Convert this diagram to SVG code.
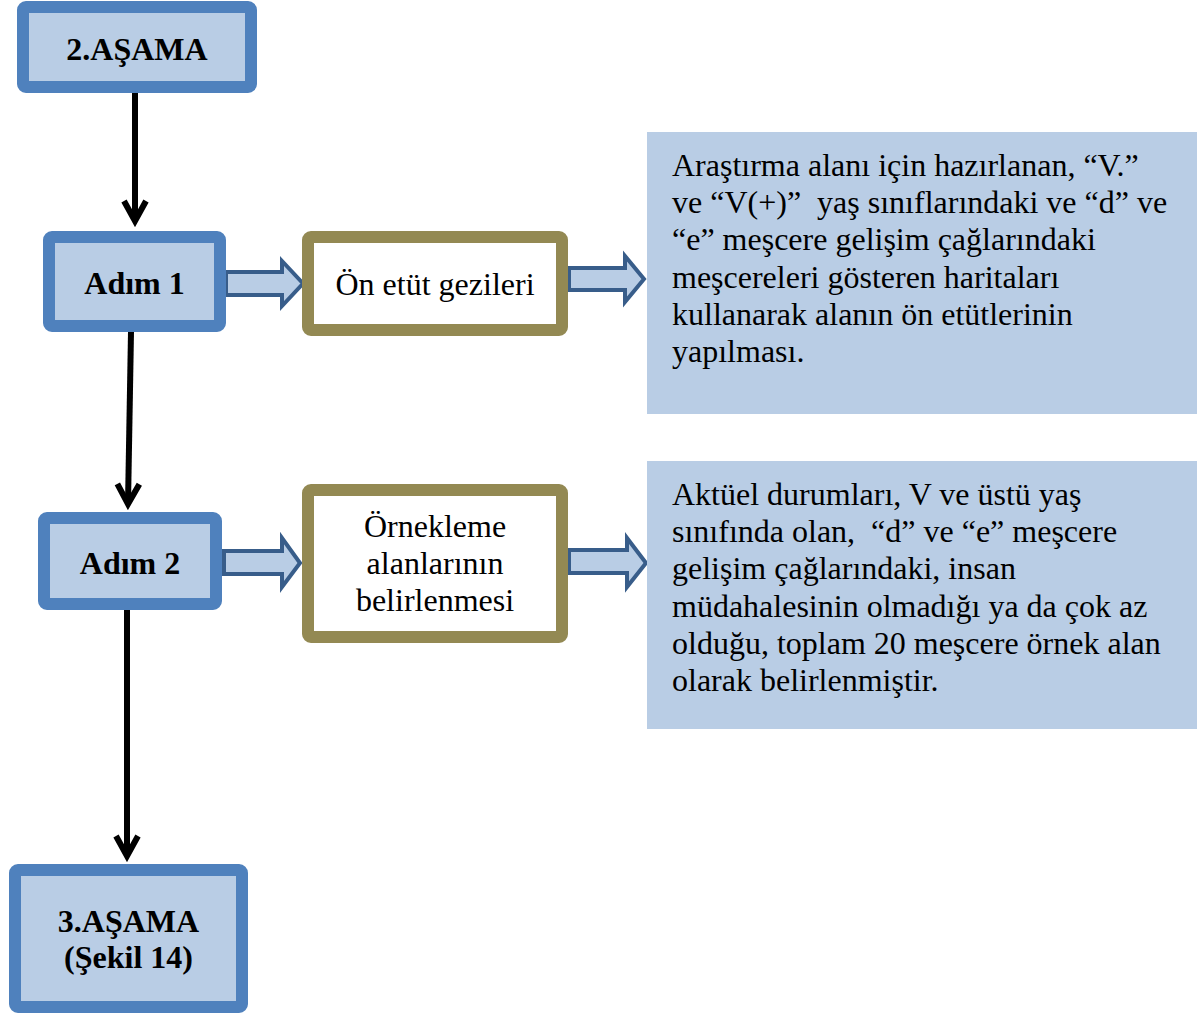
<svg xmlns="http://www.w3.org/2000/svg" width="1201" height="1014" viewBox="0 0 1201 1014">
<style>
.stage{fill:#B9CDE5;stroke:#4F81BD;stroke-width:12}
.olive{fill:#FFFFFF;stroke:#938953;stroke-width:12}
.panel{fill:#B9CDE5}
.block{fill:#B9CDE5;stroke:#385D8A;stroke-width:4;stroke-linejoin:miter}
.flow{stroke:#000;stroke-width:6;fill:none}
text{font-family:'Liberation Serif','Times New Roman',serif;fill:#000}
.tb{font-weight:bold;font-size:32px;text-anchor:middle}
.tm{font-size:32px;text-anchor:middle}
.tp{font-size:32px}
</style>
<defs>
<marker id="chev" markerUnits="userSpaceOnUse" viewBox="-26 -16 32 32" refX="0" refY="0" markerWidth="32" markerHeight="32" orient="auto">
<path d="M-20,-11 L0,0 L-20,11" fill="none" stroke="#000" stroke-width="6"/>
</marker>
</defs>
<g id="connectors">
<line class="flow" x1="135" y1="93" x2="135" y2="221" marker-end="url(#chev)"/>
<line class="flow" x1="131" y1="332" x2="128" y2="504" marker-end="url(#chev)"/>
<line class="flow" x1="127" y1="610" x2="127" y2="856" marker-end="url(#chev)"/>
<path class="block" d="M226,272 L282,272 L282,261 L303,283.5 L282,306 L282,295 L226,295 Z"/>
<path class="block" d="M569,268 L625,268 L625,256 L644,279 L625,302 L625,290 L569,290 Z"/>
<path class="block" d="M224,551 L282,551 L282,538 L300,563 L282,587 L282,574 L224,574 Z"/>
<path class="block" d="M569,550 L627,550 L627,538 L646,563 L627,587 L627,573 L569,573 Z"/>
</g>
<g id="stage2">
<rect class="stage" x="23" y="7" width="228" height="80" rx="3"/>
<text class="tb" x="137" y="60">2.AŞAMA</text>
</g>
<g id="adim1">
<rect class="stage" x="49" y="237" width="171" height="89" rx="3"/>
<text class="tb" x="134.5" y="294">Adım 1</text>
</g>
<g id="on-etut">
<rect class="olive" x="308" y="237" width="254" height="93" rx="3"/>
<text class="tm" x="435" y="295">Ön etüt gezileri</text>
</g>
<g id="panel1">
<rect class="panel" x="647" y="132" width="550" height="282"/>
<text class="tp" x="672" y="176">Araştırma alanı için hazırlanan, “V.”</text>
<text class="tp" x="672" y="213.2" xml:space="preserve">ve “V(+)”  yaş sınıflarındaki ve “d” ve</text>
<text class="tp" x="672" y="250.4">“e” meşcere gelişim çağlarındaki</text>
<text class="tp" x="672" y="287.6">meşcereleri gösteren haritaları</text>
<text class="tp" x="672" y="324.8">kullanarak alanın ön etütlerinin</text>
<text class="tp" x="672" y="362">yapılması.</text>
</g>
<g id="adim2">
<rect class="stage" x="44" y="518" width="172" height="86" rx="3"/>
<text class="tb" x="130" y="574">Adım 2</text>
</g>
<g id="ornekleme">
<rect class="olive" x="308" y="490" width="254" height="147" rx="3"/>
<text class="tm" x="435" y="537">Örnekleme</text>
<text class="tm" x="435" y="574">alanlarının</text>
<text class="tm" x="435" y="611">belirlenmesi</text>
</g>
<g id="panel2">
<rect class="panel" x="647" y="461" width="550" height="268"/>
<text class="tp" x="672" y="505">Aktüel durumları, V ve üstü yaş</text>
<text class="tp" x="672" y="542.2" xml:space="preserve">sınıfında olan,  “d” ve “e” meşcere</text>
<text class="tp" x="672" y="579.4">gelişim çağlarındaki, insan</text>
<text class="tp" x="672" y="616.6">müdahalesinin olmadığı ya da çok az</text>
<text class="tp" x="672" y="653.8">olduğu, toplam 20 meşcere örnek alan</text>
<text class="tp" x="672" y="691">olarak belirlenmiştir.</text>
</g>
<g id="stage3">
<rect class="stage" x="15" y="870" width="227" height="137" rx="3"/>
<text class="tb" x="128.5" y="932">3.AŞAMA</text>
<text class="tb" x="128.5" y="968">(Şekil 14)</text>
</g>
</svg>
